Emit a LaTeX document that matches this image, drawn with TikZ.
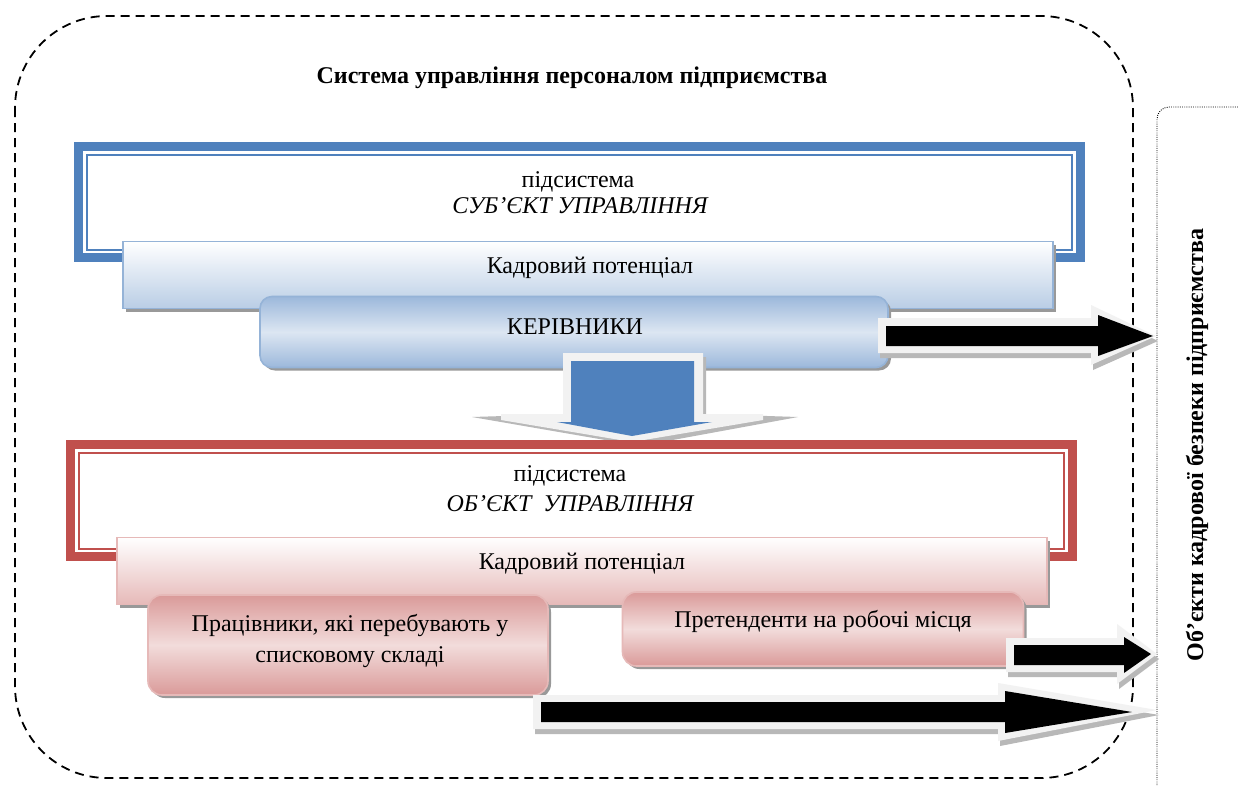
\documentclass[tikz,border=0pt]{standalone}
\usepackage{fontspec}
\setmainfont{Liberation Serif}
\usetikzlibrary{shadows}
\definecolor{bDark}{HTML}{4F81BD}
\definecolor{bEdge}{HTML}{95B3D7}
\definecolor{bLight}{HTML}{DCE6F2}
\definecolor{bMid}{HTML}{B9CDE5}
\definecolor{bDeep}{HTML}{9CB8DB}
\definecolor{rDark}{HTML}{C0504D}
\definecolor{rEdge}{HTML}{D99694}
\definecolor{rLight}{HTML}{F2DCDB}
\definecolor{rMid}{HTML}{E6B9B8}
\definecolor{rDeep}{HTML}{DA9A99}
\definecolor{glow}{HTML}{F2F2F2}
\tikzset{
  boxshadow/.style={drop shadow={shadow xshift=3pt,shadow yshift=-3pt,fill=black!40,opacity=1}},
  bluebar/.style={draw=bEdge,line width=1.6pt,top color=white,bottom color=bMid,boxshadow,inner sep=0pt},
  bluebox/.style={draw=bEdge,line width=1.6pt,rounded corners=12pt,top color=bDeep,bottom color=bDeep,middle color=bLight,boxshadow,inner sep=0pt},
  redbar/.style={draw=rMid,line width=1.6pt,top color=white,bottom color=rMid,boxshadow,inner sep=0pt},
  redbox/.style={draw=rMid,line width=1.6pt,rounded corners=14pt,top color=rDeep,bottom color=rDeep,middle color=rLight,boxshadow,inner sep=0pt},
  txt/.style={font=\fontsize{24}{28}\selectfont,inner sep=0pt,align=center},
  arrshadow/.style={fill=black!28},
  arrglow/.style={fill=glow},
  arrbody/.style={fill=black},
}
\begin{document}
\begin{tikzpicture}[x=1pt,y=-1pt]
\useasboundingbox (0,0) rectangle (1238,785);
\fill[white] (0,0) rectangle (1238,785);

% outer dashed system boundary
\draw[line width=1.8pt,dash pattern=on 9pt off 6pt,rounded corners=92pt] (15,16) rectangle (1133,778);
\node[font=\bfseries\fontsize{24}{28}\selectfont,inner sep=0pt] (title) at (572,78) {Система управління персоналом підприємства};

% right dotted box
\draw[line width=0.9pt,dash pattern=on 0.9pt off 1.3pt,rounded corners=12pt] (1157,800) -- (1157,107) -- (1260,107);
\node[font=\bfseries\fontsize{24}{28}\selectfont,rotate=90,inner sep=0pt] (objects) at (1197,445) {Об’єкти кадрової безпеки підприємства};

% blue subsystem frame
\draw[bDark,line width=9pt] (78.5,146.5) rectangle (1080.5,257.5);
\draw[bDark,line width=2pt] (87,154.5) rectangle (1072,249.5);
\node[txt] (subj1) at (578,182) {підсистема};
\node[txt,font=\itshape\fontsize{24}{28}\selectfont] (subj2) at (580,206) {СУБ’ЄКТ УПРАВЛІННЯ};

\node[bluebar,minimum width=930pt,minimum height=67pt] (kp1box) at (588,275) {};
\node[txt] (kp1) at (590,268) {Кадровий потенціал};

\node[bluebox,minimum width=628pt,minimum height=71pt] (kerbox) at (574,332) {};
\node[txt] (ker) at (575,327) {КЕРІВНИКИ};

% arrow 1 (managers -> objects)
\coordinate (a1tip) at (1153,336);
\fill[arrshadow,shift={(2,5)}] (878,318) -- (1091,318) -- (1091,305) -- (1156,336) -- (1091,365) -- (1091,353) -- (878,353) -- cycle;
\fill[arrglow] (878,318) -- (1091,318) -- (1091,305) -- (1156,336) -- (1091,365) -- (1091,353) -- (878,353) -- cycle;
\fill[arrbody] (886,326) -- (1098,326) -- (1098,315) -- (a1tip) -- (1098,356) -- (1098,346) -- (886,346) -- cycle;

% blue down arrow
\coordinate (dtip) at (632,436);
\fill[arrshadow] (567,357) -- (706,357) -- (706,414) -- (798,417) -- (640,446) -- (472,417) -- (567,414) -- cycle;
\fill[arrglow] (563,353) -- (703,353) -- (703,414) -- (763,414) -- (763,420) -- (632,442) -- (501,420) -- (501,414) -- (563,414) -- cycle;
\fill[bDark] (571,361) -- (694,361) -- (694,422) -- (712,422) -- (dtip) -- (557,422) -- (571,422) -- cycle;

% red subsystem frame
\draw[rDark,line width=9pt] (70.5,444.5) rectangle (1072.5,556.5);
\draw[rDark,line width=2pt] (79,452.5) rectangle (1064,548.5);
\node[txt] (obj1) at (570,476) {підсистема};
\node[txt,font=\itshape\fontsize{24}{28}\selectfont] (obj2) at (570,504) {ОБ’ЄКТ\ \ УПРАВЛІННЯ};

\node[redbar,minimum width=930pt,minimum height=67pt] (kp2box) at (582,571) {};
\node[txt] (kp2) at (582,564) {Кадровий потенціал};

\node[redbox,minimum width=400pt,minimum height=100pt] (workbox) at (348,645) {};
\node[txt,font=\fontsize{24}{31}\selectfont] (work) at (350,641) {Працівники, які перебувають у\\списковому складі};

\node[redbox,minimum width=401pt,minimum height=74pt] (candbox) at (823,629) {};
\node[txt] (cand) at (823,621) {Претенденти на робочі місця};

% arrow 2 (candidates -> objects)
\coordinate (a2tip) at (1151,654);
\fill[arrshadow,shift={(2,5)}] (1006,638) -- (1117,638) -- (1117,624) -- (1157,654) -- (1117,684) -- (1117,672) -- (1006,672) -- cycle;
\fill[arrglow] (1006,638) -- (1117,638) -- (1117,624) -- (1157,654) -- (1117,684) -- (1117,672) -- (1006,672) -- cycle;
\fill[arrbody] (1014,645) -- (1124,645) -- (1124,637) -- (a2tip) -- (1124,673) -- (1124,665) -- (1014,665) -- cycle;

% arrow 3 (employees -> objects)
\coordinate (a3tip) at (1132,712);
\fill[arrshadow,shift={(2,5)}] (533,695) -- (998,695) -- (998,683) -- (1157,710) -- (998,741) -- (998,729) -- (533,729) -- cycle;
\fill[arrglow] (533,695) -- (998,695) -- (998,683) -- (1157,710) -- (998,741) -- (998,729) -- (533,729) -- cycle;
\fill[arrbody] (541,702) -- (1005,702) -- (1005,691) -- (a3tip) -- (1005,733) -- (1005,722) -- (541,722) -- cycle;
\end{tikzpicture}
\end{document}
